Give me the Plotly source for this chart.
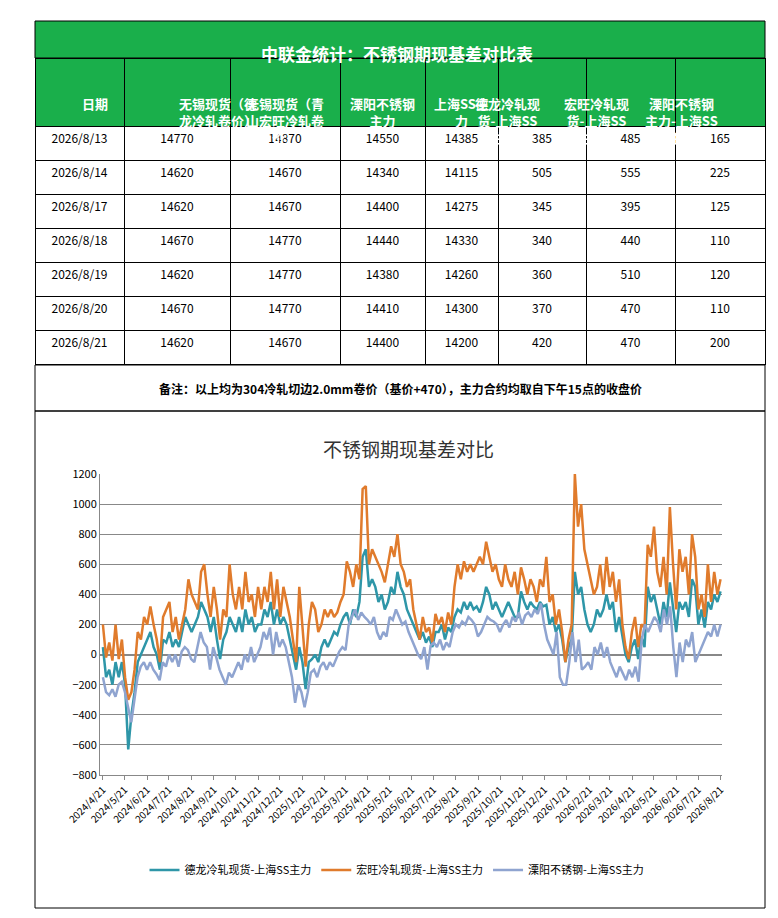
import pandas as pd
import plotly.graph_objects as go

W, H = 778, 918
FONT = "Noto Sans CJK SC"

# ---- table data ----
headers = ["日期", "无锡现货（德<br>龙冷轧卷价）", "无锡现货（青<br>山宏旺冷轧卷<br>价）", "溧阳不锈钢<br>主力",
           "上海SS主<br>力", "德龙冷轧现<br>货-上海SS<br>主力", "宏旺冷轧现<br>货-上海SS<br>主力", "溧阳不锈钢<br>主力-上海SS<br>主力"]
dates_tbl = ["2026/8/13", "2026/8/14", "2026/8/17", "2026/8/18", "2026/8/19", "2026/8/20", "2026/8/21"]
delong_spot = [14770, 14620, 14620, 14670, 14620, 14670, 14620]
hongwang_spot = [14870, 14670, 14670, 14770, 14770, 14770, 14670]
liyang_main = [14550, 14340, 14400, 14440, 14380, 14410, 14400]
shanghai_ss = [14385, 14115, 14275, 14330, 14260, 14300, 14200]
delong_basis = [385, 505, 345, 340, 360, 370, 420]
hongwang_basis = [485, 555, 395, 440, 510, 470, 470]
liyang_basis = [165, 225, 125, 110, 120, 110, 200]

# ---- chart data (approximate weekly readings) ----
delong_series = [
    50, -150, -100, -200, -50, -150, -50, -200,
    -630, -400, -250, -50, 0, 50, 100,
    150, 50, 0, -100, 100, 80, 150, 50,
    100, 50, 150, 250, 200, 150,
    200, 250, 350, 300, 250, 150, 250, 100,
    -30, 100, 150, 250, 200, 150,
    250, 150, 300, 200, 250, 150, 200,
    200, 300, 250, 350, 200, 300, 200,
    250, 200, 100, 0, -100, 50, -50,
    -230, -50, -30, 0, -50, 50, 100,
    50, 100, 150, 130, 200, 250, 280, 200,
    300, 250, 350, 650, 700, 450, 500,
    450, 350, 400, 300, 350, 450, 400,
    550, 450, 400, 300, 250, 200,
    150, 100, 150, 80, 120, 50, 150,
    150, 200, 100, 180, 150, 250, 300,
    280, 350, 300, 350, 300, 320, 280,
    350, 450, 400, 300, 350, 300, 250,
    300, 350, 300, 250, 250, 420, 350,
    300, 350, 320, 300, 350, 320, 330,
    200, 250, 150, 200, 100, -50, 50,
    100, 550, 400, 450, 300, 200,
    150, 200, 300, 250, 300, 400, 300,
    350, 150, 250, 120, 0, -50, 50,
    100, -30, 120, 50, 450, 350, 400,
    300, 200, 350, 250, 480, 300, 150,
    350, 300, 350, 250, 500, 450, 200,
    300, 180, 350, 300, 400, 350, 420,
]
hongwang_series = [
    200, -20, 80, -40, 200, -30, 100, -150,
    -300, -250, -100, 150, 100, 250, 200,
    320, 200, 100, -50, 250, 300, 350, 150,
    250, 100, 200, 300, 500, 400,
    350, 300, 550, 600, 400, 250, 450, 300,
    100, 300, 250, 600, 400, 300,
    450, 300, 550, 350, 400, 250, 450,
    300, 450, 350, 550, 300, 500, 250,
    450, 350, 250, 100, -50, 450, 200,
    -80, 200, 350, 300, 150, 200, 300,
    250, 300, 250, 280, 350, 400, 620, 550,
    450, 600, 500, 1100, 1120, 600, 700,
    650, 600, 550, 480, 600, 720, 650,
    800, 600, 550, 450, 500, 300,
    200, 100, 250, 150, 180, 80, 270,
    200, 250, 150, 280, 200, 450, 600,
    500, 620, 550, 600, 550, 600, 650,
    600, 750, 650, 550, 600, 500, 450,
    600, 500, 450, 550, 400, 580, 500,
    400, 500, 450, 350, 500, 450, 650,
    350, 400, 200, 300, 150, -50, 100,
    200, 1200, 850, 1000, 700, 600,
    500, 400, 450, 600, 400, 650, 450,
    550, 350, 500, 200, 50, -30, 150,
    250, 50, 200, 180, 730, 650, 850,
    550, 450, 650, 400, 980, 600, 300,
    700, 550, 650, 400, 800, 650, 300,
    400, 250, 600, 350, 550, 400, 500,
]
liyang_series = [
    -150, -250, -270, -230, -280, -200, -180, -250,
    -350, -450, -300, -150, -80, -50, -100,
    -50, -100, -130, -170, -50, -80, 0, -50,
    0, -80, 20, 50, 30, -30,
    -50, 50, 150, 80, 50, -100, 50, -20,
    -100, -150, -200, -120, -150, -100,
    -50, -100, 0, -50, 50, -50, 0,
    50, 150, 100, 180, 0, 150, 50,
    100, 50, -50, -150, -320, -200, -250,
    -350, -250, -120, -100, -150, -80, -50,
    -100, -50, -80, -30, 20, 50, 30, 200,
    250, 300, 230, 280, 250, 230, 200,
    250, 150, 100, 150, 120, 250, 230,
    300, 250, 200, 220, 150, 100,
    50, 0, -30, 50, -100, 60, 80,
    50, 100, 30, 80, 50, 150, 200,
    180, 220, 200, 250, 230, 200, 120,
    150, 200, 250, 230, 220, 200, 150,
    200, 230, 180, 250, 220, 280, 200,
    260, 280, 250, 300, 270, 340, 200,
    100, 50, 0, 150, -150, -200, -200,
    -50, 150, -50, 100, -100, -80, -50,
    -100, 50, 0, 80, -20, 50, -50,
    -100, -150, -80, -120, -170, -100, -150,
    -80, -180, 100, 200, 150, 200, 250,
    220, 150, 300, 200, 320, 50, -150,
    80, -50, 100, 50, 150, -50, 0,
    50, 100, 150, 120, 200, 120, 200,
]
month_ticks = pd.date_range("2024-04-01", "2026-08-21", freq="MS") + pd.Timedelta(days=20)
tick_text = [f"{d.year}/{d.month}/21" for d in month_ticks]

col_edges = [27, 116, 222, 332, 417, 490, 578, 667, 757]


def px(x):
    return x / W


def py(y):
    return 1 - y / H


fig = go.Figure()

fig.add_trace(go.Table(
    domain=dict(x=[px(27), px(757)], y=[py(357), py(50)]),
    columnwidth=[b - a for a, b in zip(col_edges[:-1], col_edges[1:])],
    header=dict(values=[""] * len(headers), fill_color="#1AAF4B",
                line_color="black", height=68),
    cells=dict(values=[dates_tbl, delong_spot, hongwang_spot, liyang_main, shanghai_ss,
                       delong_basis, hongwang_basis, liyang_basis],
               fill_color="white", line_color="black", align="center", height=34,
               font=dict(family=FONT, size=12, color="black")),
))

series = [("德龙冷轧现货-上海SS主力", delong_series, "#2E96A8"),
          ("宏旺冷轧现货-上海SS主力", hongwang_series, "#E07B2C"),
          ("溧阳不锈钢-上海SS主力", liyang_series, "#8FA4D0")]
for name, vals, color in series:
    xs = pd.date_range("2024-04-21", "2026-08-21", periods=len(vals))
    fig.add_trace(go.Scatter(x=xs, y=vals, mode="lines", name=name,
                             line=dict(color=color, width=2.5)))

shapes = [
    dict(type="rect", xref="paper", yref="paper", x0=px(27), x1=px(757), y0=py(50), y1=py(13),
         fillcolor="#1AAF4B", line=dict(color="black", width=1), layer="below"),
    dict(type="rect", xref="paper", yref="paper", x0=px(27), x1=px(757), y0=py(403), y1=py(357),
         line=dict(color="black", width=1)),
    dict(type="rect", xref="paper", yref="paper", x0=px(27), x1=px(757), y0=py(900), y1=py(403),
         line=dict(color="black", width=1)),
]
annotations = [
    dict(text="<b>中联金统计：不锈钢期现基差对比表</b>", x=0.5, y=py(31), xref="paper", yref="paper",
         showarrow=False, font=dict(family=FONT, size=17, color="white")),
    dict(text="<b>备注：以上均为304冷轧切边2.0mm卷价（基价+470），主力合约均取自下午15点的收盘价</b>",
         x=px(392), y=py(380), xref="paper", yref="paper", showarrow=False,
         font=dict(family=FONT, size=12, color="black")),
    dict(text="不锈钢期现基差对比", x=px(400), y=py(440), xref="paper", yref="paper",
         showarrow=False, font=dict(family=FONT, size=19, color="#333333")),
]
for i, h in enumerate(headers):
    annotations.append(dict(
        text=f"<b>{h}</b>", x=px((col_edges[i] + col_edges[i + 1]) / 2), y=py(84),
        xref="paper", yref="paper", showarrow=False, align="center",
        font=dict(family=FONT, size=13, color="white")))

fig.update_layout(
    width=W, height=H, margin=dict(l=0, r=0, t=0, b=0),
    paper_bgcolor="white", plot_bgcolor="white",
    font=dict(family=FONT, size=11, color="black"),
    shapes=shapes, annotations=annotations,
    xaxis=dict(domain=[px(92), px(714)], range=["2024-04-17", "2026-08-23"], automargin=False,
               tickvals=month_ticks, ticktext=tick_text, tickangle=-45,
               showgrid=False, showline=True, linecolor="#888888", ticks="outside",
               tickcolor="#888888", ticklen=4, tickfont=dict(size=10)),
    yaxis=dict(domain=[py(767), py(466)], range=[-800, 1200], dtick=200, automargin=False,
               showgrid=True, gridcolor="#888888", zeroline=True, zerolinecolor="#888888",
               showline=True, linecolor="#888888", tickfont=dict(size=11)),
    legend=dict(orientation="h", x=0.5, xanchor="center", y=py(862), yanchor="middle",
                font=dict(size=11)),
    showlegend=True,
)

fig.write_html("out.html")
